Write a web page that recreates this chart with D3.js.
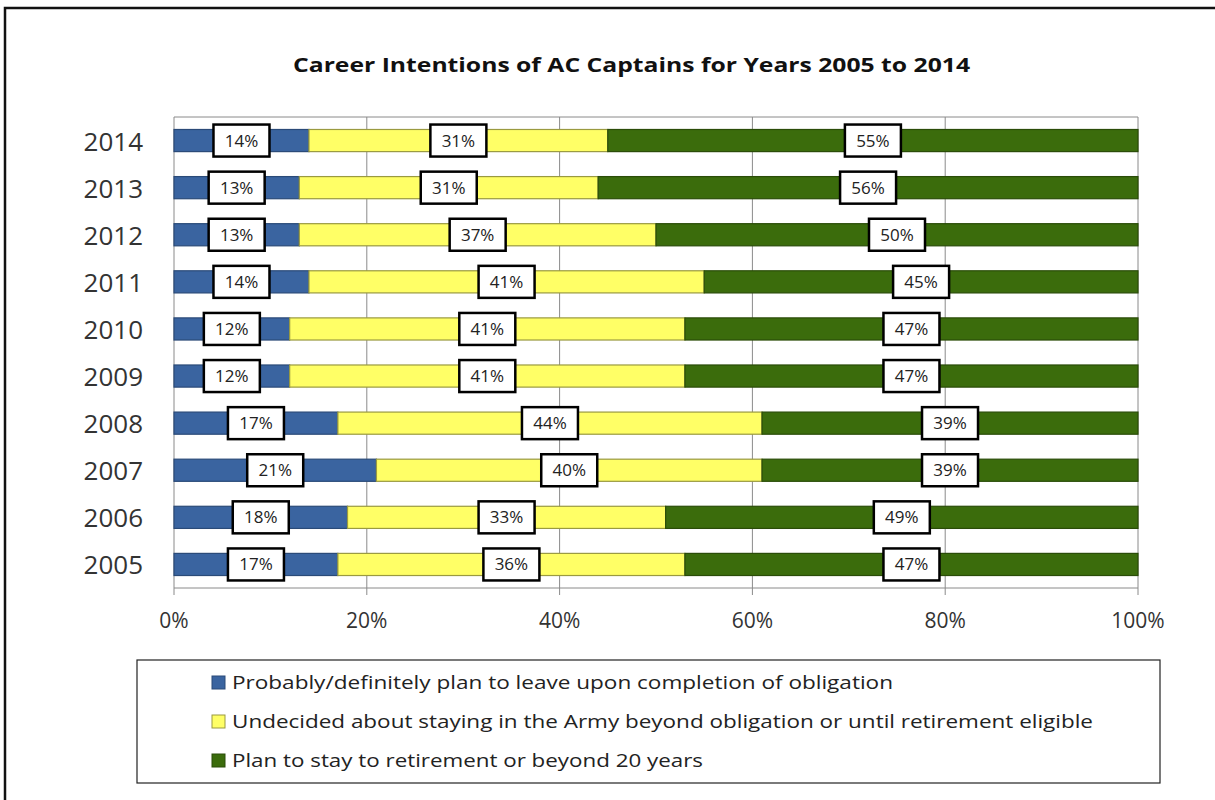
<!DOCTYPE html>
<html><head><meta charset="utf-8">
<script src="https://cdn.jsdelivr.net/npm/d3@7"></script>
<style>body{margin:0;background:#fff;} svg{display:block;font-family:"Open Sans",sans-serif;}</style>
</head><body><svg id="c" width="1215" height="800"></svg>
<script>
const years = ["2014","2013","2012","2011","2010","2009","2008","2007","2006","2005"];
const leave = [14,13,13,14,12,12,17,21,18,17];
const undecided = [31,31,37,41,41,41,44,40,33,36];
const stay = [55,56,50,45,47,47,39,39,49,47];
const seriesNames = ["Probably/definitely plan to leave upon completion of obligation",
  "Undecided about staying in the Army beyond obligation or until retirement eligible",
  "Plan to stay to retirement or beyond 20 years"];
const colors = ["#3a64a0","#ffff66","#3b6c0c"];
const strokes = ["#2a4a78","#9a9a40","#2a4c08"];
const xTicks = [0,20,40,60,80,100];

const svg = d3.select("#c");
svg.append("rect").attr("x",5).attr("y",8).attr("width",1215).attr("height",800).attr("fill","none").attr("stroke","#111").attr("stroke-width",2.5);

svg.append("text").attr("x",631.5).attr("y",72).attr("text-anchor","middle")
  .attr("font-size",19.5).attr("font-weight","bold").attr("fill","#111")
  .attr("textLength",677).attr("lengthAdjust","spacingAndGlyphs")
  .text("Career Intentions of AC Captains for Years 2005 to 2014");

const L=174,R=1138,T=117,B=588;
const x = d3.scaleLinear().domain([0,100]).range([L,R]);
const y = d3.scaleBand().domain(years).range([T,B]).paddingInner(0.53).paddingOuter(0.265);

// grid
svg.append("g").selectAll("line").data(xTicks).join("line")
  .attr("x1",d=>x(d)).attr("x2",d=>x(d)).attr("y1",T).attr("y2",B+7)
  .attr("stroke","#8a8a8a").attr("stroke-width",1);
svg.append("line").attr("x1",L).attr("x2",R).attr("y1",T).attr("y2",T).attr("stroke","#8a8a8a");
svg.append("line").attr("x1",L).attr("x2",R).attr("y1",B).attr("y2",B).attr("stroke","#8a8a8a");

const data = years.map((yr,i)=>({yr, vals:[leave[i],undecided[i],stay[i]]}));
const g = svg.append("g");
data.forEach(d=>{
  let cum=0;
  d.vals.forEach((v,k)=>{
    const x0=cum; cum+=v;
    g.append("rect").attr("x",x(x0)).attr("y",y(d.yr)).attr("width",x(x0+v)-x(x0)).attr("height",y.bandwidth())
      .attr("fill",colors[k]).attr("stroke",strokes[k]).attr("stroke-width",1.2);
  });
});
data.forEach(d=>{
  let cum=0;
  d.vals.forEach((v,k)=>{
    const c=x(cum+v/2); cum+=v;
    const cy=y(d.yr)+y.bandwidth()/2;
    g.append("rect").attr("x",c-28).attr("y",cy-16).attr("width",56).attr("height",32)
      .attr("fill","#fff").attr("stroke","#000").attr("stroke-width",2.5);
    g.append("text").attr("x",c).attr("y",cy+6).attr("text-anchor","middle").attr("font-size",17).attr("fill","#222").text(v+"%");
  });
});

// y labels
svg.append("g").selectAll("text").data(years).join("text")
  .attr("x",143).attr("y",d=>y(d)+y.bandwidth()/2+10).attr("text-anchor","end")
  .attr("font-size",26).attr("fill","#333").text(d=>d);
// x labels
svg.append("g").selectAll("text").data(xTicks).join("text")
  .attr("x",d=>x(d)).attr("y",628).attr("text-anchor","middle")
  .attr("font-size",21).attr("fill","#333").text(d=>d+"%");

// legend
const legendLens = [661,861,471];
svg.append("rect").attr("x",137).attr("y",660).attr("width",1023).attr("height",123).attr("fill","#fff").attr("stroke","#222").attr("stroke-width",1.2);
seriesNames.forEach((n,i)=>{
  const yy=682+i*39;
  svg.append("rect").attr("x",212).attr("y",yy-6).attr("width",13).attr("height",13).attr("fill",colors[i]).attr("stroke",strokes[i]);
  svg.append("text").attr("x",232).attr("y",yy+7).attr("font-size",18.5).attr("fill","#222")
    .attr("textLength",legendLens[i]).attr("lengthAdjust","spacingAndGlyphs").text(n);
});
</script></body></html>
